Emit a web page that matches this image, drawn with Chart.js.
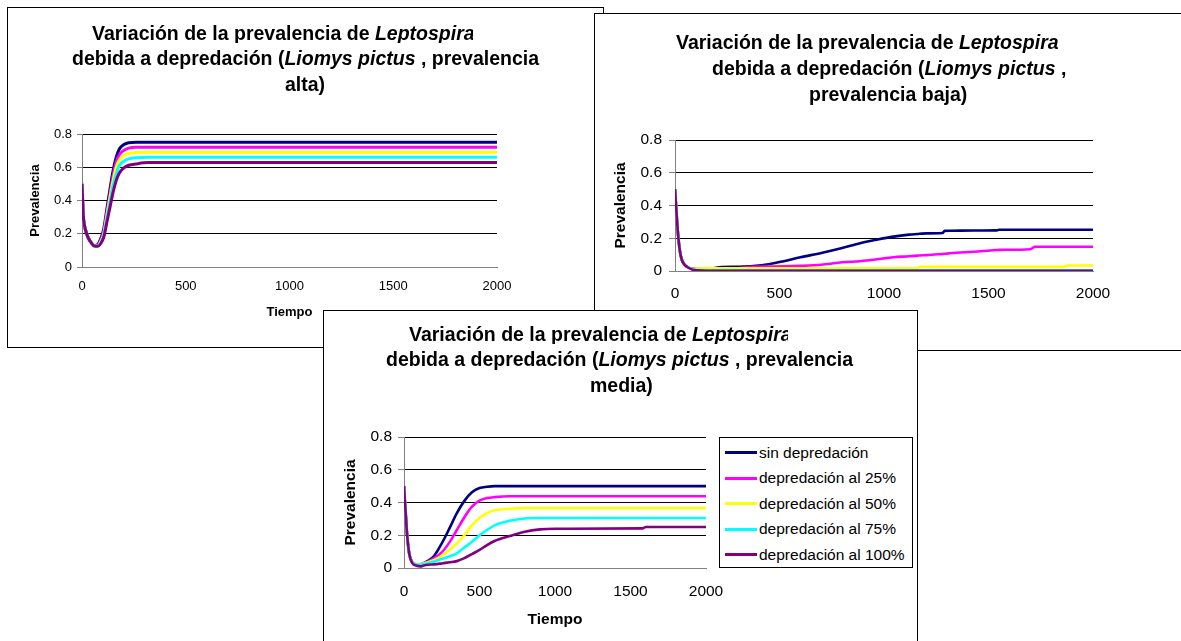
<!DOCTYPE html>
<html lang="es">
<head>
<meta charset="utf-8">
<title>Variación de la prevalencia de Leptospira</title>
<script src="https://cdn.jsdelivr.net/npm/chart.js@4.4.1/dist/chart.umd.min.js"></script>
<style>
  html, body { margin: 0; padding: 0; background: #fff; }
  body { width: 1181px; height: 641px; overflow: hidden; position: relative;
         font-family: "Liberation Sans", Arial, sans-serif; color: #000; }
  .panel { position: absolute; background: #fff; border: 1px solid #000; box-sizing: border-box; }
  .panel canvas { position: absolute; left: 0; top: 0; }
  .tl { position: absolute; white-space: nowrap; font-weight: bold; font-size: 19.5px; line-height: 20px; }
  .leyenda { position: absolute; border: 1px solid #000; box-sizing: border-box; background: #fff; }
  .leyenda .fila { position: absolute; left: 5px; height: 20px; display: flex; align-items: center;
                   font-size: 15.5px; white-space: nowrap; }
  .leyenda .muestra { display: inline-block; width: 32px; height: 3px; margin-right: 2px; }
</style>
</head>
<body>

<div class="panel" style="left:7px;top:7px;width:597px;height:341px">
  <canvas id="graficoAlta" width="595" height="339"></canvas>
  <div class="tl" style="left:84px;top:15px;width:381px;overflow:hidden">Variación de la prevalencia de <i>Leptospira</i></div>
  <div class="tl" style="left:64px;top:40px">debida a depredación (<i>Liomys pictus</i> , prevalencia</div>
  <div class="tl" style="left:277px;top:66px">alta)</div>
</div>

<div class="panel" style="left:594px;top:13px;width:600px;height:338px">
  <canvas id="graficoBaja" width="598" height="336"></canvas>
  <div class="tl" style="left:81px;top:18px">Variación de la prevalencia de <i>Leptospira</i></div>
  <div class="tl" style="left:117px;top:44px">debida a depredación (<i>Liomys pictus</i> ,</div>
  <div class="tl" style="left:214px;top:70px">prevalencia baja)</div>
</div>

<div class="panel" style="left:323px;top:310px;width:595px;height:340px">
  <canvas id="graficoMedia" width="593" height="338"></canvas>
  <div class="tl" style="left:85px;top:13px;width:379px;overflow:hidden">Variación de la prevalencia de <i>Leptospira</i></div>
  <div class="tl" style="left:62px;top:38px">debida a depredación (<i>Liomys pictus</i> , prevalencia</div>
  <div class="tl" style="left:266px;top:64px">media)</div>
  <div class="leyenda" id="leyendaMedia" style="left:395px;top:126px;width:194px;height:131px"></div>
</div>

<script>
// === DATOS ===
const series = ['sin depredación', 'depredación al 25%', 'depredación al 50%', 'depredación al 75%', 'depredación al 100%'];
const colores = ['#000080', '#FF00FF', '#FFFF00', '#00FFFF', '#800080'];
const ticksX = ['0', '500', '1000', '1500', '2000'];
const ticksY = ['0', '0.2', '0.4', '0.6', '0.8'];

// prevalencia alta
const tiempoAlta = [0, 3, 6, 12, 20, 30, 45, 60, 75, 90, 105, 120, 135, 150, 165, 180, 200, 225, 260, 320, 2000];
const altaSin = [0.5, 0.4, 0.31, 0.25, 0.21, 0.175, 0.145, 0.13, 0.135, 0.17, 0.23, 0.35, 0.47, 0.58, 0.66, 0.71, 0.735, 0.748, 0.75, 0.75, 0.75];
const alta25  = [0.5, 0.4, 0.31, 0.25, 0.21, 0.175, 0.145, 0.128, 0.13, 0.16, 0.215, 0.33, 0.44, 0.55, 0.63, 0.675, 0.70, 0.715, 0.72, 0.72, 0.72];
const alta50  = [0.5, 0.4, 0.31, 0.25, 0.21, 0.175, 0.145, 0.128, 0.128, 0.15, 0.2, 0.31, 0.42, 0.52, 0.60, 0.645, 0.67, 0.683, 0.688, 0.69, 0.69];
const alta75  = [0.5, 0.4, 0.31, 0.25, 0.21, 0.175, 0.145, 0.127, 0.127, 0.145, 0.19, 0.29, 0.39, 0.49, 0.56, 0.61, 0.635, 0.65, 0.657, 0.66, 0.66];
const alta100 = [0.5, 0.4, 0.31, 0.25, 0.21, 0.175, 0.145, 0.126, 0.125, 0.14, 0.18, 0.27, 0.36, 0.45, 0.52, 0.565, 0.595, 0.612, 0.62, 0.628, 0.628];

// prevalencia baja
const tiempoBaja = [0, 5, 10, 17, 25, 33, 45, 57, 80, 105, 150, 224, 300, 375, 455, 520, 600, 700, 800, 886, 960, 1045, 1120, 1160, 1170, 1205, 1280, 1290, 1316, 1430, 1540, 1550, 1700, 1723, 1860, 1875, 2000];
const bajaSin = [0.5, 0.4, 0.3, 0.19, 0.11, 0.067, 0.04, 0.026, 0.015, 0.012, 0.012, 0.024, 0.026, 0.03, 0.043, 0.06, 0.084, 0.11, 0.14, 0.17, 0.19, 0.21, 0.222, 0.226, 0.227, 0.23, 0.232, 0.245, 0.246, 0.247, 0.248, 0.252, 0.252, 0.252, 0.252, 0.252, 0.252];
const baja25  = [0.5, 0.4, 0.3, 0.19, 0.11, 0.067, 0.04, 0.026, 0.013, 0.011, 0.011, 0.012, 0.016, 0.026, 0.027, 0.028, 0.031, 0.038, 0.053, 0.06, 0.07, 0.084, 0.09, 0.094, 0.095, 0.097, 0.104, 0.105, 0.108, 0.118, 0.128, 0.129, 0.133, 0.148, 0.148, 0.148, 0.148];
const baja50  = [0.5, 0.4, 0.3, 0.19, 0.11, 0.067, 0.04, 0.026, 0.013, 0.015, 0.016, 0.016, 0.016, 0.016, 0.016, 0.016, 0.016, 0.016, 0.016, 0.016, 0.016, 0.016, 0.016, 0.016, 0.025, 0.025, 0.025, 0.025, 0.025, 0.025, 0.025, 0.025, 0.025, 0.025, 0.025, 0.034, 0.034];
const baja75  = [0.5, 0.4, 0.3, 0.19, 0.11, 0.067, 0.04, 0.026, 0.012, 0.006, 0.005, 0.005, 0.005, 0.005, 0.005, 0.005, 0.005, 0.005, 0.005, 0.005, 0.005, 0.005, 0.005, 0.005, 0.005, 0.005, 0.005, 0.005, 0.005, 0.005, 0.005, 0.005, 0.005, 0.005, 0.005, 0.005, 0.005];
const baja100 = [0.5, 0.4, 0.3, 0.19, 0.11, 0.067, 0.04, 0.026, 0.01, 0.004, 0.001, 0.001, 0.001, 0.001, 0.001, 0.001, 0.001, 0.001, 0.001, 0.001, 0.001, 0.001, 0.001, 0.001, 0.001, 0.001, 0.001, 0.001, 0.001, 0.001, 0.001, 0.001, 0.001, 0.001, 0.001, 0.001, 0.001];

// prevalencia media
const tiempoMedia = [0, 5, 10, 20, 35, 55, 80, 110, 130, 160, 200, 250, 300, 350, 400, 450, 500, 550, 600, 700, 800, 900, 1000, 1580, 1600, 2000];
const mediaSin = [0.5, 0.42, 0.35, 0.21, 0.085, 0.035, 0.022, 0.022, 0.03, 0.045, 0.075, 0.15, 0.24, 0.335, 0.41, 0.462, 0.488, 0.496, 0.5, 0.5, 0.5, 0.5, 0.5, 0.5, 0.5, 0.5];
const media25  = [0.5, 0.42, 0.35, 0.21, 0.085, 0.035, 0.022, 0.022, 0.03, 0.04, 0.06, 0.095, 0.155, 0.232, 0.31, 0.375, 0.412, 0.427, 0.433, 0.438, 0.438, 0.438, 0.438, 0.438, 0.438, 0.438];
const media50  = [0.5, 0.42, 0.35, 0.21, 0.085, 0.035, 0.022, 0.021, 0.028, 0.035, 0.05, 0.075, 0.11, 0.15, 0.2, 0.26, 0.305, 0.335, 0.352, 0.362, 0.366, 0.366, 0.366, 0.366, 0.366, 0.366];
const media75  = [0.5, 0.42, 0.35, 0.21, 0.085, 0.035, 0.021, 0.02, 0.025, 0.03, 0.04, 0.055, 0.07, 0.09, 0.125, 0.16, 0.2, 0.232, 0.26, 0.288, 0.302, 0.305, 0.305, 0.305, 0.305, 0.305];
const media100 = [0.5, 0.42, 0.35, 0.21, 0.085, 0.03, 0.015, 0.01, 0.015, 0.02, 0.022, 0.028, 0.035, 0.042, 0.06, 0.085, 0.11, 0.14, 0.165, 0.195, 0.222, 0.236, 0.24, 0.242, 0.25, 0.25];

Chart.defaults.font.family = '"Liberation Sans", Arial, sans-serif';

// area = [izq, arriba, der, abajo] del area de trazado dentro del canvas
function dibujar(id, geo, tiempo, valores) {
    const el = document.getElementById(id);
    const W = el.width, H = el.height;
    const a = geo.area;
    const fTick = { size: geo.fs, lineHeight: 1 };
    const fTit = { size: geo.fs, weight: 'bold', lineHeight: 1 };

    return new Chart(el.getContext('2d'), {
        type: 'line',
        data: {
            datasets: valores.map((vals, i) => ({
                label: series[i],
                data: tiempo.map((t, k) => ({ x: t, y: vals[k] })),
                borderColor: colores[i],
                backgroundColor: colores[i],
                borderWidth: geo.lw,
                pointRadius: 0,
                cubicInterpolationMode: 'monotone',
                fill: false,
                order: valores.length - i // la última serie queda encima
            }))
        },
        options: {
            responsive: false,
            animation: false,
            events: [],
            layout: { padding: { left: 0, top: a[1], right: W - a[2], bottom: 0 } },
            plugins: { legend: { display: false }, tooltip: { enabled: false } },
            scales: {
                x: {
                    type: 'linear', min: 0, max: 2000,
                    ticks: { stepSize: 500, padding: geo.xPad, color: '#000', font: fTick, maxRotation: 0,
                             callback: v => ticksX[Math.round(v / 500)] },
                    grid: { display: false, drawTicks: false },
                    border: { color: '#808080', width: 1 },
                    title: { display: true, text: 'Tiempo', color: '#000', font: fTit,
                             padding: { top: 0, bottom: H - geo.fs / 2 - geo.xTit } },
                    afterFit: s => { s.height = H - a[3]; }
                },
                y: {
                    min: 0, max: 0.8,
                    ticks: { stepSize: 0.2, padding: geo.yPad, color: '#000', font: fTick,
                             callback: v => ticksY[Math.round(v / 0.2)] },
                    grid: { color: c => (c.tick && c.tick.value === 0 ? '#808080' : '#000'),
                            tickLength: geo.tl, tickColor: '#808080', lineWidth: 1 },
                    border: { color: '#808080', width: 1 },
                    title: { display: true, text: 'Prevalencia', color: '#000', font: fTit,
                             padding: { top: geo.yTit - geo.fs / 2, bottom: 0 } },
                    afterFit: s => { s.width = a[0]; }
                }
            }
        }
    });
}

dibujar('graficoAlta',
    { area: [74, 126, 489, 259], fs: 13, lw: 3, tl: 5, yPad: 5, xPad: 12.5, yTit: 27.6, xTit: 304.7 },
    tiempoAlta, [altaSin, alta25, alta50, alta75, alta100]);

dibujar('graficoBaja',
    { area: [80, 126, 498, 257], fs: 15.5, lw: 2.6, tl: 6, yPad: 7, xPad: 14.5, yTit: 26, xTit: 309 },
    tiempoBaja, [bajaSin, baja25, baja50, baja75, baja100]);

const media = dibujar('graficoMedia',
    { area: [80, 126, 382, 257], fs: 15.5, lw: 2.6, tl: 6, yPad: 6, xPad: 15.5, yTit: 26.6, xTit: 309 },
    tiempoMedia, [mediaSin, media25, media50, media75, media100]);

// leyenda del gráfico de prevalencia media
const leyenda = document.getElementById('leyendaMedia');
media.data.datasets.forEach((ds, i) => {
    const fila = document.createElement('div');
    fila.className = 'fila';
    fila.style.top = (4.5 + i * 25.6) + 'px';
    const m = document.createElement('span');
    m.className = 'muestra';
    m.style.background = ds.borderColor;
    fila.appendChild(m);
    fila.appendChild(document.createTextNode(ds.label));
    leyenda.appendChild(fila);
});
</script>
</body>
</html>
